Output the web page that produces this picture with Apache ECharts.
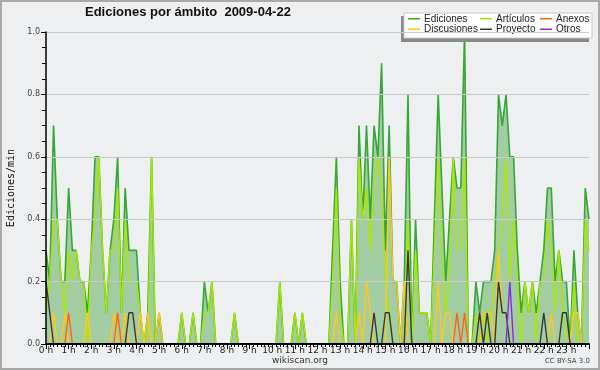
<!DOCTYPE html>
<html>
<head>
<meta charset="utf-8">
<script src="https://cdn.jsdelivr.net/npm/echarts/dist/echarts.min.js"></script>
<style>
html,body{margin:0;padding:0;background:#eeeff1;}
#c{width:600px;height:370px;}
</style>
</head>
<body>
<div id="c"></div>
<script>
// 10-minute slots, 0:00 .. 24:00 (145 points), values in edits per minute
const hourLabels = ['0 h','1 h','2 h','3 h','4 h','5 h','6 h','7 h','8 h','9 h','10 h','11 h','12 h','13 h','14 h','15 h','16 h','17 h','18 h','19 h','20 h','21 h','22 h','23 h',''];
const yTicks = [0.0, 0.2, 0.4, 0.6, 0.8, 1.0];

const ediciones = [
0.3,0.2,0.7,0.4,0.2,0.2,0.5,0.3,0.3,0.2,0.2,0.1,0.3,0.6,0.6,0.3,0.1,0.3,0.4,0.6,
0.1,0.5,0.3,0.3,0.3,0.1,0,0.1,0.6,0,0.1,0,0,0,0,0,0.1,0,0,0.1,
0,0,0.2,0.1,0.2,0,0,0,0,0,0.1,0,0,0,0,0,0,0,0,0,
0,0,0.2,0,0,0,0.1,0,0.1,0,0,0,0,0,0,0,0.3,0.6,0.2,0,
0,0.4,0,0.7,0.4,0.7,0.4,0.7,0.6,0.9,0.3,0.7,0.2,0.2,0,0.2,0.8,0,0.4,0.1,
0.1,0.1,0,0.4,0.8,0.5,0.2,0.4,0.6,0.5,0.5,1.0,0,0,0.2,0.1,0.2,0.2,0.2,0.3,
0.8,0.7,0.8,0.6,0.6,0.3,0.1,0.2,0.1,0.2,0.1,0.2,0.3,0.5,0.5,0.2,0.3,0.2,0.2,0,
0.3,0.1,0,0.5,0.4];

const articulos = [
0.1,0.2,0.4,0.4,0.2,0.1,0.3,0.2,0.3,0.2,0.2,0,0.3,0.4,0.6,0.3,0.1,0.3,0.3,0.5,
0.1,0.4,0.2,0.2,0.2,0.1,0,0,0.6,0,0,0,0,0,0,0,0.1,0,0,0.1,
0,0,0.1,0.1,0.2,0,0,0,0,0,0.1,0,0,0,0,0,0,0,0,0,
0,0,0.2,0,0,0,0.1,0,0.1,0,0,0,0,0,0,0,0.2,0.5,0.1,0,
0,0.4,0,0.6,0.4,0.5,0.3,0.5,0.6,0.5,0.2,0.1,0,0,0,0,0.4,0,0.3,0.1,
0.1,0.1,0,0.3,0.6,0.3,0.1,0.2,0.6,0.3,0.3,0.6,0,0,0.1,0,0.1,0,0.1,0.2,
0.3,0.4,0.6,0.2,0.4,0.2,0,0.2,0.1,0.2,0,0.2,0.2,0.4,0.3,0.1,0.3,0.1,0,0,
0.2,0,0,0.4,0.3];

const discusiones = [
0,0,0.1,0,0,0.1,0,0,0,0,0,0.1,0,0,0,0,0,0,0.1,0,
0,0.1,0,0,0,0.1,0,0.1,0,0,0.1,0,0,0,0,0,0,0,0,0,
0,0,0,0,0,0,0,0,0,0,0,0,0,0,0,0,0,0,0,0,
0,0,0,0,0,0,0,0,0,0,0,0,0,0,0,0,0,0.1,0,0,
0,0,0,0.1,0,0.2,0.1,0,0,0,0,0.6,0.2,0.2,0,0.2,0,0,0,0,
0,0,0,0,0.2,0,0.1,0.1,0,0,0,0,0,0,0,0,0.1,0.1,0.1,0,
0.3,0.1,0.1,0,0,0,0,0,0,0,0,0,0,0,0.1,0,0,0,0,0,
0.1,0.1,0,0,0];

const anexos = [
0,0,0,0,0,0,0.1,0,0,0,0,0,0,0,0,0,0,0,0,0.1,
0,0,0,0,0,0,0,0,0,0,0,0,0,0,0,0,0,0,0,0,
0,0,0,0,0,0,0,0,0,0,0,0,0,0,0,0,0,0,0,0,
0,0,0,0,0,0,0,0,0,0,0,0,0,0,0,0,0,0,0,0,
0,0,0,0,0,0,0,0,0,0,0,0,0,0,0,0,0,0,0,0,
0,0,0,0,0,0,0,0,0,0.1,0,0.1,0,0,0,0,0,0,0,0,
0,0,0,0,0,0,0,0,0,0,0,0,0,0,0,0,0,0,0,0,
0,0,0,0,0];

const proyecto = [
0.2,0.1,0,0,0,0,0,0,0,0,0,0,0,0,0,0,0,0,0,0,
0,0,0.1,0.1,0,0,0,0,0,0,0,0,0,0,0,0,0,0,0,0,
0,0,0,0,0,0,0,0,0,0,0,0,0,0,0,0,0,0,0,0,
0,0,0,0,0,0,0,0,0,0,0,0,0,0,0,0,0,0,0,0,
0,0,0,0,0,0,0,0.1,0,0,0.1,0.1,0,0,0,0,0.3,0,0,0,
0,0,0,0,0,0,0,0,0,0,0,0,0,0,0,0.1,0,0.1,0,0,
0.2,0.1,0.1,0,0,0,0,0,0,0,0,0,0.1,0,0,0,0,0.1,0.1,0,
0,0,0,0,0];

const otros = [
0,0,0,0,0,0,0,0,0,0,0,0,0,0,0,0,0,0,0,0,
0,0,0,0,0,0,0,0,0,0,0,0,0,0,0,0,0,0,0,0,
0,0,0,0,0,0,0,0,0,0,0,0,0,0,0,0,0,0,0,0,
0,0,0,0,0,0,0,0,0,0,0,0,0,0,0,0,0,0,0,0,
0,0,0,0,0,0,0,0,0,0,0,0,0,0,0,0,0,0,0,0,
0,0,0,0,0,0,0,0,0,0,0,0,0,0,0,0,0,0,0,0,
0,0,0,0.2,0,0,0,0,0,0,0,0,0,0,0,0,0,0,0,0,
0,0,0,0,0];

const seriesColors = {
  'Ediciones':'#35a835',
  'Artículos':'#a8e800',
  'Anexos':'#ff6418',
  'Discusiones':'#ffc81a',
  'Proyecto':'#383838',
  'Otros':'#8a2be2'
};
const seriesData = {
  'Ediciones':ediciones,'Artículos':articulos,'Anexos':anexos,
  'Discusiones':discusiones,'Proyecto':proyecto,'Otros':otros
};
const drawOrder = ['Ediciones','Artículos','Discusiones','Anexos','Proyecto','Otros'];

const chart = echarts.init(document.getElementById('c'), null, {renderer:'canvas'});
const FONT = 'DejaVu Sans';

function mkSeries(name, idx){
  const s = {
    name: name,
    type: 'line',
    data: seriesData[name].map((v,i)=>[i,v]),
    symbol: 'none',
    color: seriesColors[name],
    itemStyle: {color: seriesColors[name]},
    lineStyle: {color: seriesColors[name], width: name==='Ediciones'?1.6:1.4},
    z: 2 + idx,
    animation: false
  };
  if (name === 'Ediciones') {
    s.areaStyle = {color: '#a2cca2', opacity: 1};
  }
  return s;
}

function mkLegend(names, left){
  return {
    data: names,
    left: left, top: 13.5,
    orient: 'vertical',
    padding: 0,
    itemGap: 0,
    itemWidth: 12, itemHeight: 1.5,
    icon: 'rect',
    z: 10,
    selectedMode: false,
    textStyle: {fontFamily: 'Liberation Sans', fontSize: 10, color: '#222', lineHeight: 10.5, padding:[0,0,0,-1]}
  };
}

const option = {
  backgroundColor: '#eeeff1',
  animation: false,
  title: {
    text: 'Ediciones por ámbito  2009-04-22',
    left: 85, top: 6, padding: 0,
    textStyle: {fontFamily: 'Liberation Sans', fontSize: 13, fontWeight: 'bold', color: '#111'}
  },
  legend: [
    mkLegend(['Ediciones','Discusiones'], 408),
    mkLegend(['Artículos','Proyecto'], 480),
    mkLegend(['Anexos','Otros'], 540)
  ],
  grid: {left: 46, right: 11, top: 32, bottom: 26, containLabel: false, outerBoundsMode: 'none'},
  xAxis: {
    type: 'value', min: 0, max: 144, interval: 6,
    z: 20,
    axisLine: {lineStyle: {color: '#000', width: 2}},
    axisTick: {show: true, length: 5, lineStyle: {color: '#000'}},
    minorTick: {show: true, splitNumber: 6, length: 3, lineStyle: {color: '#000'}},
    splitLine: {show: false},
    axisLabel: {
      fontFamily: FONT, fontSize: 9, color: '#222', margin: 2,
      formatter: v => hourLabels[Math.round(v/6)] || ''
    }
  },
  yAxis: {
    type: 'value', min: 0, max: 1, interval: 0.2,
    name: 'Ediciones/min', nameLocation: 'middle', nameRotate: 90, nameGap: 30,
    nameTextStyle: {fontFamily: 'DejaVu Sans Mono', fontSize: 10, color: '#111'},
    z: 20,
    axisLine: {show: true, lineStyle: {color: '#000', width: 1.5}},
    axisTick: {show: true, length: 5, lineStyle: {color: '#000'}},
    minorTick: {show: true, splitNumber: 4, length: 4, lineStyle: {color: '#000'}},
    splitLine: {show: true, lineStyle: {color: '#c9c9c9', width: 1}},
    axisLabel: {
      fontFamily: FONT, fontSize: 8, color: '#444', margin: 6,
      formatter: v => yTicks.indexOf(Math.round(v*10)/10) >= 0 ? v.toFixed(1) : ''
    }
  },
  graphic: [
    {type:'rect', shape:{x:1, y:1, width:598, height:368}, style:{fill:'none', stroke:'#a9a9a9', lineWidth:2}, z:100, silent:true},
    {type:'rect', shape:{x:401, y:16, width:188, height:26}, style:{fill:'#8a8a8a'}, z:5, silent:true},
    {type:'rect', shape:{x:404, y:13, width:188, height:25}, style:{fill:'#ffffff', stroke:'#c8c8c8', lineWidth:1}, z:6, silent:true},
    {type:'text', left: 'center', top: 356, style:{text:'wikiscan.org', font:'9px "DejaVu Sans"', fill:'#333'}, z:10, silent:true},
    {type:'text', right: 10, top: 358, style:{text:'CC BY-SA 3.0', font:'7px "DejaVu Sans"', fill:'#444'}, z:10, silent:true}
  ],
  series: drawOrder.map((n,i)=>mkSeries(n,i))
};
chart.setOption(option);
</script>
</body>
</html>
